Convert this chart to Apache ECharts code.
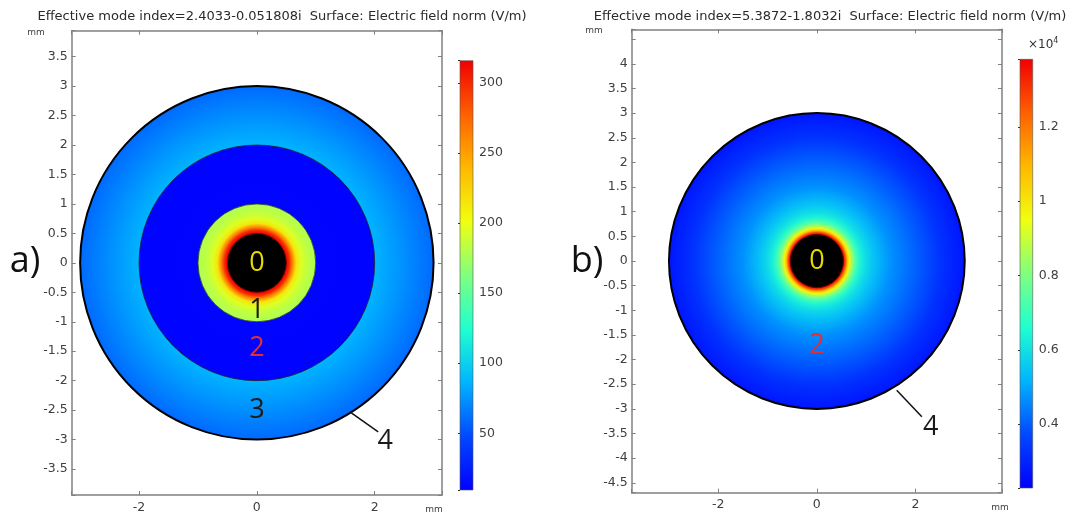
<!DOCTYPE html>
<html>
<head>
<meta charset="utf-8">
<script src="https://cdn.jsdelivr.net/npm/echarts@6/dist/echarts.min.js"></script>
<style>
html, body { margin: 0; padding: 0; background: #fff; }
#main { width: 1072px; height: 516px; }
</style>
</head>
<body>
<div id="main"></div>
<script>
// colour table (rainbow), evenly spaced from min to max
var rainbow = ['#0000ff', '#0048ff', '#00b4ff', '#20ffd0', '#80ff80', '#f0ff10', '#ffb800', '#ff6000', '#f00000'];

// a) layer radii (mm) and field norm along the radius (V/m)
var coreA = 0.5;
var ring1R = [0.5, 0.55, 0.6, 0.67, 0.75, 0.85, 1.0];
var ring1V = [316, 300, 265, 215, 195, 185, 178];
var ring2R = [1, 2];
var ring2V = [12, 11];
var ring3R = [2, 2.5, 3];
var ring3V = [86, 73, 60];
var rangeA = [9.5, 316];
var titleA = 'Effective mode index=2.4033-0.051808i  Surface: Electric field norm (V/m)';

// b) same, field in units of 1e4 V/m
var coreB = 0.54;
var ringBR = [0.54, 0.58, 0.62, 0.66, 0.72, 0.8, 0.9, 1.0, 1.15, 1.5, 2.0, 2.5, 3.0];
var ringBV = [1.38, 1.27, 1.08, 0.97, 0.83, 0.71, 0.63, 0.59, 0.545, 0.47, 0.405, 0.33, 0.27];
var rangeB = [0.228, 1.382];
var titleB = 'Effective mode index=5.3872-1.8032i  Surface: Electric field norm (V/m)';

var chart = echarts.init(document.getElementById('main'));

var axisGray = '#808080';
var labelFont = 'DejaVu Sans';

function mapColor(v, range) {
  var t = (v - range[0]) / (range[1] - range[0]);
  return echarts.color.lerp(Math.max(0, Math.min(1, t)), rainbow);
}

// only label ticks that sit on the step (hides the axis end values)
function onTick(step, hideAbove) {
  return function (v) {
    var k = v / step;
    if (hideAbove != null && v > hideAbove) return '';
    return Math.abs(k - Math.round(k)) < 1e-6 ? String(+v.toFixed(4)) : '';
  };
}

// concentric layers, outer first; each drawn as a disc with a radial gradient
function layerSeries(gi, layers, range) {
  return {
    type: 'custom',
    xAxisIndex: gi * 2, yAxisIndex: gi * 2,
    silent: true,
    data: layers.map(function () { return [0, 0]; }),
    renderItem: function (params, api) {
      var L = layers[params.dataIndex];
      var c = api.coord([api.value(0), api.value(1)]);
      var rp = api.size([L.r, 0])[0];
      var fill = '#000';
      if (L.rs) {
        var stops = L.rs.map(function (r, i) {
          return { offset: r / L.r, color: mapColor(L.vs[i], range) };
        });
        fill = new echarts.graphic.RadialGradient(c[0], c[1], rp, stops, true);
      }
      return {
        type: 'circle',
        shape: { cx: c[0], cy: c[1], r: rp },
        style: { fill: fill, stroke: L.edge, lineWidth: L.w }
      };
    }
  };
}

function labelSeries(gi, marks) {
  return {
    type: 'custom',
    xAxisIndex: gi * 2, yAxisIndex: gi * 2,
    silent: true,
    data: marks.map(function (m) { return m.at; }),
    renderItem: function (params, api) {
      var m = marks[params.dataIndex];
      var p = api.coord([api.value(0), api.value(1)]);
      if (m.to) {
        var q = api.coord(m.to);
        return {
          type: 'line',
          shape: { x1: p[0], y1: p[1], x2: q[0], y2: q[1] },
          style: { stroke: '#111', lineWidth: 1.5 }
        };
      }
      return {
        type: 'text',
        x: p[0], y: p[1],
        style: {
          text: m.t, fill: m.color, font: '27px "Open Sans"',
          align: 'center', verticalAlign: 'middle'
        }
      };
    }
  };
}

function colorbarSeries(gi, range) {
  return {
    type: 'custom',
    xAxisIndex: gi * 2 + 1, yAxisIndex: gi * 2 + 1,
    silent: true,
    data: [[0, range[0]]],
    renderItem: function (params, api) {
      var p0 = api.coord([0, range[1]]);
      var p1 = api.coord([1, range[0]]);
      var stops = rainbow.map(function (c, i) {
        return { offset: i / (rainbow.length - 1), color: c };
      });
      return {
        type: 'rect',
        shape: { x: p0[0], y: p0[1], width: p1[0] - p0[0], height: p1[1] - p0[1] },
        style: {
          fill: new echarts.graphic.LinearGradient(0, 1, 0, 0, stops),
          stroke: '#555', lineWidth: 0.6
        }
      };
    }
  };
}

function frameAxes(gi, xr, yr, hideAbove) {
  var common = {
    type: 'value', gridIndex: gi,
    axisLine: { show: true, onZero: false, lineStyle: { color: axisGray, width: 1.5 } },
    axisTick: { show: true, inside: true, length: 4, lineStyle: { color: axisGray, width: 1 } },
    splitLine: { show: false }
  };
  var xs = [
    Object.assign({}, common, {
      position: 'bottom', min: -xr, max: xr, minInterval: 2, maxInterval: 2,
      axisLabel: { show: true, margin: 6, color: '#404040', fontFamily: labelFont, fontSize: 12.5, formatter: onTick(2) }
    }),
    Object.assign({}, common, {
      position: 'top', min: -xr, max: xr, minInterval: 2, maxInterval: 2,
      axisLabel: { show: false }
    })
  ];
  var ys = [
    Object.assign({}, common, {
      position: 'left', min: -yr, max: yr, minInterval: 0.5, maxInterval: 0.5,
      axisLabel: { show: true, margin: 4, color: '#404040', fontFamily: labelFont, fontSize: 12.5, formatter: onTick(0.5, hideAbove) }
    }),
    Object.assign({}, common, {
      position: 'right', min: -yr, max: yr, minInterval: 0.5, maxInterval: 0.5,
      axisLabel: { show: false }
    })
  ];
  return { xs: xs, ys: ys };
}

function barAxes(gi, range, step) {
  var x = { type: 'value', gridIndex: gi, min: 0, max: 1, show: false };
  var y = {
    type: 'value', gridIndex: gi, position: 'right',
    min: range[0], max: range[1], minInterval: step, maxInterval: step,
    axisLine: { show: false },
    axisTick: { show: true, inside: true, length: 2, lineStyle: { color: '#333' } },
    axisLabel: { show: true, margin: 6, color: '#404040', fontFamily: labelFont, fontSize: 12.5, formatter: onTick(step) },
    splitLine: { show: false }
  };
  return { x: x, y: y };
}

var layersA = [
  { r: 3, rs: ring3R, vs: ring3V, edge: '#000', w: 2 },
  { r: 2, rs: ring2R, vs: ring2V, edge: '#222', w: 0.8 },
  { r: 1, rs: ring1R, vs: ring1V, edge: '#333', w: 0.8 },
  { r: coreA, edge: '#700000', w: 1 }
];
var layersB = [
  { r: 3, rs: ringBR, vs: ringBV, edge: '#000', w: 2 },
  { r: coreB, edge: '#700000', w: 1 }
];

var marksA = [
  { t: '0', at: [0, 0], color: '#e6d800' },
  { t: '1', at: [0, -0.8], color: '#1a1a1a' },
  { t: '2', at: [0, -1.45], color: '#e03030' },
  { t: '3', at: [0, -2.51], color: '#1a1a1a' },
  { t: '4', at: [2.18, -3.03], color: '#1a1a1a' },
  { at: [1.58, -2.53], to: [2.06, -2.87] }
];
var marksB = [
  { t: '0', at: [0, 0], color: '#e6d800' },
  { t: '2', at: [0, -1.72], color: '#e03030' },
  { t: '4', at: [2.31, -3.37], color: '#1a1a1a' },
  { at: [1.62, -2.62], to: [2.13, -3.16] }
];

var fa = frameAxes(0, 3.143, 3.941);
var ba = barAxes(1, rangeA, 50);
var fb = frameAxes(2, 3.756, 4.70, 4.25);
var bb = barAxes(3, rangeB, 0.2);

// axis index order: grid0 bottom/top/left/right, grid1 bar, ...
var xAxes = [fa.xs[0], ba.x, fb.xs[0], bb.x, fa.xs[1], fb.xs[1]];
var yAxes = [fa.ys[0], ba.y, fb.ys[0], bb.y, fa.ys[1], fb.ys[1]];

function gtext(x, y, text, font, color, align, rich) {
  return {
    type: 'text', x: x, y: y, silent: true,
    style: {
      text: text, font: font, fill: color,
      align: align || 'center', verticalAlign: 'middle',
      textAlign: align || 'center', textVerticalAlign: 'middle',
      rich: rich
    }
  };
}

chart.setOption({
  animation: false,
  backgroundColor: '#fff',
  grid: [
    { left: 71.7, top: 30.7, width: 370.3, height: 464.3, outerBoundsMode: 'none' },
    { left: 460, top: 60.7, width: 13, height: 429.3, outerBoundsMode: 'none' },
    { left: 631.7, top: 29.3, width: 370.3, height: 463.4, outerBoundsMode: 'none' },
    { left: 1020, top: 59.3, width: 12.7, height: 428.7, outerBoundsMode: 'none' }
  ],
  xAxis: xAxes,
  yAxis: yAxes,
  series: [
    layerSeries(0, layersA, rangeA),
    labelSeries(0, marksA),
    colorbarSeries(0, rangeA),
    layerSeries(1, layersB, rangeB),
    labelSeries(1, marksB),
    colorbarSeries(1, rangeB)
  ],
  graphic: [
    gtext(282, 17, titleA, '13px "DejaVu Sans"', '#2a2a2a'),
    gtext(830, 17, titleB, '13px "DejaVu Sans"', '#2a2a2a'),
    gtext(36, 33, 'mm', '9px "DejaVu Sans"', '#404040'),
    gtext(594, 31, 'mm', '9px "DejaVu Sans"', '#404040'),
    gtext(434, 510, 'mm', '9px "DejaVu Sans"', '#404040'),
    gtext(1000, 508, 'mm', '9px "DejaVu Sans"', '#404040'),
    gtext(25, 262, 'a)', '36px "Open Sans"', '#111'),
    gtext(587, 262, 'b)', '36px "Open Sans"', '#111'),
    gtext(1028, 45, '×10{sup|4}', '12px "DejaVu Sans"', '#333', 'left',
      { sup: { fontSize: 8, verticalAlign: 'top', padding: [0, 0, 8, 0], fill: '#333', fontFamily: 'DejaVu Sans' } })
  ]
});
</script>
</body>
</html>
